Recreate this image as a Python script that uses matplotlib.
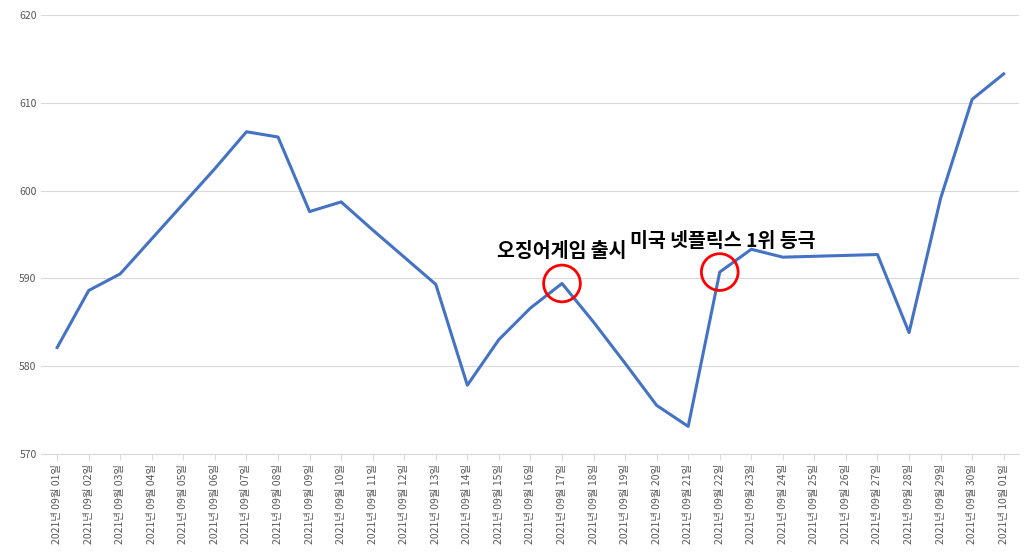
import matplotlib
matplotlib.use('Agg')
import matplotlib.pyplot as plt

plt.rcParams['font.family'] = ['Noto Sans CJK KR', 'DejaVu Sans']

dates = [f"2021년 09월 {d:02d}일" for d in range(1, 31)] + ["2021년 10월 01일"]
values = [582.1, 588.6, 590.5, 594.5, 598.5, 602.5, 606.7, 606.1, 597.6, 598.7,
          595.5, 592.4, 589.3, 577.8, 583.0, 586.6, 589.4, 585.0, 580.3, 575.5,
          573.1, 590.7, 593.3, 592.4, 592.5, 592.6, 592.7, 583.8, 599.1, 610.4, 613.3]
notes = [(16, "오징어게임 출시", 16.0, 592.0), (21, "미국 넷플릭스 1위 등극", 21.1, 593.1)]

fig = plt.figure(figsize=(10.35, 5.6), dpi=100)
ax = fig.add_axes([0.04, 0.19, 0.945, 0.783])
x = list(range(len(dates)))
ax.plot(x, values, color='#4472C4', lw=2.2)
ax.set_xlim(-0.5, len(dates) - 0.5)
ax.set_ylim(570, 620)
ax.set_yticks(range(570, 621, 10))
ax.grid(axis='y', color='#d9d9d9', lw=0.8)
ax.set_xticks(x)
ax.set_xticklabels(dates, rotation=90, fontsize=7.5, color='#595959')
ax.tick_params(axis='y', labelsize=7.5, colors='#595959', length=0)
ax.tick_params(axis='x', length=4, color='#d9d9d9')
for s in ['top', 'right', 'left']:
    ax.spines[s].set_visible(False)
ax.spines['bottom'].set_color('#d9d9d9')
for i, t, tx, ty in notes:
    ax.scatter([i], [values[i]], s=700, facecolors='none', edgecolors='red', lw=2, zorder=3)
    ax.text(tx, ty, t, ha='center', va='bottom', fontsize=14, fontweight='bold')
fig.savefig('out.png', dpi=100)
